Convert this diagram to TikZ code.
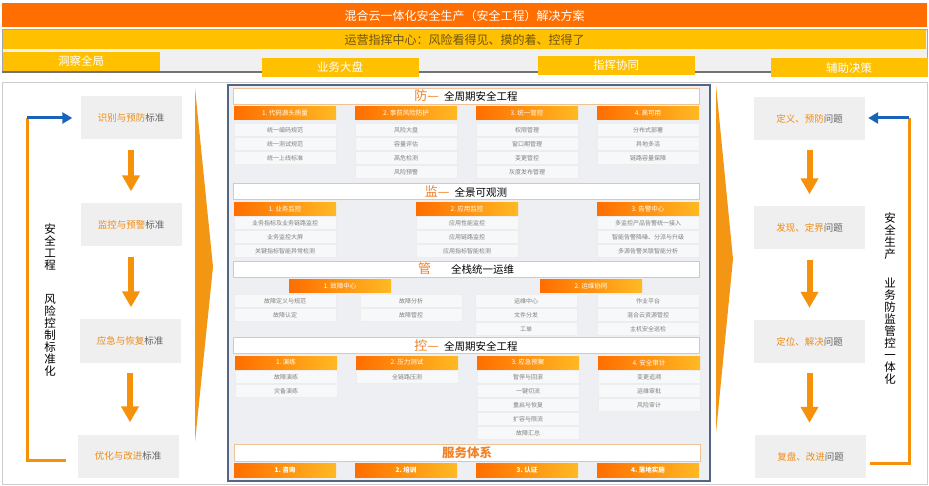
\documentclass[tikz,border=0pt]{standalone}
\usepackage{fontspec}
\setmainfont{Noto Sans CJK SC}
\usepackage{xcolor}
\usepackage{tikz}
\usetikzlibrary{arrows.meta}
\definecolor{hdorange}{RGB}{255,110,0}
\definecolor{hdyellow}{RGB}{255,192,0}
\definecolor{cmdtext}{RGB}{110,85,20}
\definecolor{stdgray}{RGB}{239,239,239}
\definecolor{stdorange}{RGB}{240,140,20}
\definecolor{stdtext}{RGB}{100,100,100}
\definecolor{arroworange}{RGB}{245,145,10}
\definecolor{linkblue}{RGB}{25,100,185}
\definecolor{chevorange}{RGB}{242,150,20}
\definecolor{panelbg}{RGB}{237,239,242}
\definecolor{panelborder}{RGB}{85,100,130}
\definecolor{secborder}{RGB}{240,195,150}
\definecolor{secorange}{RGB}{240,130,40}
\definecolor{colleft}{RGB}{255,110,0}
\definecolor{colright}{RGB}{255,185,35}
\tikzset{
  topbar/.style={
    rectangle,
    fill=hdorange,
    text=white,
    minimum width=925pt,
    minimum height=24pt,
    inner sep=0pt,
    font=\fontsize{12}{12}\selectfont
  },
  cmdbar/.style={
    rectangle,
    fill=hdyellow,
    text=cmdtext,
    minimum width=923pt,
    minimum height=19pt,
    inner sep=0pt,
    font=\fontsize{12}{12}\selectfont
  },
  tabbox/.style={
    rectangle,
    fill=hdyellow,
    text=white,
    minimum width=157pt,
    minimum height=19pt,
    inner sep=0pt,
    font=\fontsize{11.5}{11.5}\selectfont
  },
  stdbox/.style={
    rectangle,
    fill=stdgray,
    text=stdtext,
    minimum width=101pt,
    minimum height=43pt,
    inner sep=0pt,
    font=\fontsize{9.5}{9.5}\selectfont
  },
  downarrow/.style={
    draw=arroworange,
    line width=6pt,
    -{Triangle[length=16pt,width=17pt]},
    shorten <=10pt,
    shorten >=12pt
  },
  bracketline/.style={
    draw=arroworange,
    line width=3pt
  },
  linkarrow/.style={
    draw=linkblue,
    line width=3pt,
    -{Triangle[length=10pt,width=11pt]},
    shorten >=8pt
  },
  vtext/.style={
    align=center,
    inner sep=0pt,
    font=\fontsize{11.5}{12}\selectfont
  },
  secbar/.style={
    rectangle,
    fill=white,
    draw=secborder,
    minimum width=466pt,
    minimum height=16pt,
    inner sep=0pt,
    font=\fontsize{10.5}{10.5}\selectfont
  },
  colhead/.style={
    rectangle,
    left color=colleft,
    right color=colright,
    text=white,
    minimum width=102pt,
    minimum height=13pt,
    inner sep=0pt,
    font=\fontsize{6.5}{6.5}\selectfont
  },
  itemcell/.style={
    rectangle,
    draw=black!7,
    fill=white!55!panelbg,
    text=black!50,
    minimum width=102pt,
    minimum height=13pt,
    inner sep=0pt,
    font=\fontsize{6}{6}\selectfont
  },
  servbar/.style={
    colhead,
    minimum height=14pt,
    font=\fontsize{6.5}{6.5}\selectfont\bfseries
  }
}

\begin{document}
\begin{tikzpicture}[x=1pt, y=-1pt]
\useasboundingbox (0,0) rectangle (929,486);

% header
\node[topbar] (title) at (464.5,15.5) {混合云一体化安全生产（安全工程）解决方案};
\draw[draw=black!35, fill=black!6] (2,29) rectangle (927,72);
\node[cmdbar] (cmd) at (464.5,39.5) {运营指挥中心：风险看得见、摸的着、控得了};
\draw[draw=black!55, line width=1.5pt] (2,72) -- (927,72);
\node[tabbox] (tabview) at (81,61.5) {洞察全局};
\node[tabbox] (tabbiz) at (340,67.5) {业务大盘};
\node[tabbox] (tabcmd) at (616,65.5) {指挥协同};
\node[tabbox] (tabaid) at (849,68) {辅助决策};

% frame and chevrons
\draw[draw=black!20] (2,82) rectangle (927,484);
\fill[chevorange] (195,88) -- (213,267) -- (195,442) -- cycle;
\fill[chevorange] (716,85) -- (733,259) -- (716,433) -- cycle;

% left: standards
\node[stdbox] (stdident) at (131,118) {\textcolor{stdorange}{识别与预防}标准};
\node[stdbox] (stdmonitor) at (131,225) {\textcolor{stdorange}{监控与预警}标准};
\node[stdbox] (stdemerg) at (130,341) {\textcolor{stdorange}{应急与恢复}标准};
\node[stdbox] (stdoptim) at (128,456) {\textcolor{stdorange}{优化与改进}标准};
\draw[downarrow] (stdident.south) -- (stdident.south |- stdmonitor.north);
\draw[downarrow] (stdmonitor.south) -- (stdmonitor.south |- stdemerg.north);
\draw[downarrow] (stdemerg.south) -- (stdemerg.south |- stdoptim.north);
\coordinate (lbot) at (66,460);
\coordinate (lcornerbot) at (27,460);
\coordinate (lcornertop) at (27,118);
\draw[bracketline] (lbot) -- (lcornerbot) -- (lcornertop);
\draw[linkarrow] (lcornertop) -- (lcornertop -| stdident.west);
\node[vtext] (lvtop) at (50,247) {安\\全\\工\\程};
\node[vtext] (lvbot) at (50,335) {风\\险\\控\\制\\标\\准\\化};

% right: problems
\node[stdbox, minimum width=111pt] (probdef) at (809.5,118.5) {\textcolor{stdorange}{定义、预防}问题};
\node[stdbox, minimum width=111pt] (probfind) at (809.5,228) {\textcolor{stdorange}{发现、定界}问题};
\node[stdbox, minimum width=111pt] (problocate) at (809.5,341.5) {\textcolor{stdorange}{定位、解决}问题};
\node[stdbox, minimum width=111pt] (probreview) at (810.5,456.5) {\textcolor{stdorange}{复盘、改进}问题};
\draw[downarrow] (probdef.south) -- (probdef.south |- probfind.north);
\draw[downarrow] (probfind.south) -- (probfind.south |- problocate.north);
\draw[downarrow] (problocate.south) -- (problocate.south |- probreview.north);
\coordinate (rbot) at (870,463);
\coordinate (rcornerbot) at (909,463);
\coordinate (rcornertop) at (909,118);
\draw[bracketline] (rbot) -- (rcornerbot) -- (rcornertop);
\draw[linkarrow, shorten >=3pt] (rcornertop) -- (rcornertop -| probdef.east);
\node[vtext] (rvtop) at (890,236) {安\\全\\生\\产};
\node[vtext] (rvbot) at (890,331) {业\\务\\防\\监\\管\\控\\一\\体\\化};

% centre panel
\draw[draw=panelborder, line width=1.2pt, fill=panelbg] (228,85) rectangle (710,481);

% fang
\node[secbar] (fangtitle) at (466,96) {\textcolor{secorange}{\fontsize{13}{13}\selectfont 防—}\hspace{5pt}全周期安全工程};
\node[colhead] (fanghead1) at (285,113.5) {1.\ 代码源头质量};
\node[colhead] (fanghead2) at (406,113.5) {2.\ 事前风险防护};
\node[colhead] (fanghead3) at (527,113.5) {3.\ 统一管控};
\node[colhead] (fanghead4) at (648,113.5) {4.\ 高可用};
\node[itemcell] (fangitem11) at (285,130) {统一编码规范};
\node[itemcell] (fangitem12) at (285,144) {统一测试规范};
\node[itemcell] (fangitem13) at (285,158) {统一上线标准};
\node[itemcell] (fangitem21) at (406,130) {风险大盘};
\node[itemcell] (fangitem22) at (406,144) {容量评估};
\node[itemcell] (fangitem23) at (406,158) {高危检测};
\node[itemcell] (fangitem24) at (406,172) {风险预警};
\node[itemcell] (fangitem31) at (527,130) {权限管理};
\node[itemcell] (fangitem32) at (527,144) {窗口期管理};
\node[itemcell] (fangitem33) at (527,158) {变更管控};
\node[itemcell] (fangitem34) at (527,172) {灰度发布管理};
\node[itemcell] (fangitem41) at (648,130) {分布式部署};
\node[itemcell] (fangitem42) at (648,144) {异地多活};
\node[itemcell] (fangitem43) at (648,158) {链路容量保障};

% jian
\node[secbar] (jiantitle) at (466,191.5) {\textcolor{secorange}{\fontsize{13}{13}\selectfont 监—}\hspace{5pt}全景可观测};
\node[colhead] (jianhead1) at (285,209) {1.\ 业务监控};
\node[colhead] (jianhead2) at (467,209) {2.\ 应用监控};
\node[colhead] (jianhead3) at (648,209) {3.\ 告警中心};
\node[itemcell] (jianitem11) at (285,223) {业务指标及业务链路监控};
\node[itemcell] (jianitem12) at (285,237) {业务监控大屏};
\node[itemcell] (jianitem13) at (285,251) {关键指标智能异常检测};
\node[itemcell] (jianitem21) at (467,223) {应用性能监控};
\node[itemcell] (jianitem22) at (467,237) {应用链路监控};
\node[itemcell] (jianitem23) at (467,251) {应用指标智能检测};
\node[itemcell] (jianitem31) at (648,223) {多监控产品告警统一接入};
\node[itemcell] (jianitem32) at (648,237) {智能告警降噪、分派与升级};
\node[itemcell] (jianitem33) at (648,251) {多源告警关联智能分析};

% guan
\node[secbar] (guantitle) at (466,269) {\textcolor{secorange}{\fontsize{13}{13}\selectfont 管}\hspace{20pt}全栈统一运维};
\node[colhead] (guanhead1) at (340,286.5) {1.\ 故障中心};
\node[colhead] (guanhead2) at (591,286.5) {2.\ 运维协同};
\node[itemcell] (guanitem11) at (285,301) {故障定义与规范};
\node[itemcell] (guanitem12) at (285,315) {故障认定};
\node[itemcell] (guanitem21) at (411,301) {故障分析};
\node[itemcell] (guanitem22) at (411,315) {故障管控};
\node[itemcell] (guanitem31) at (526,301) {运维中心};
\node[itemcell] (guanitem32) at (526,315) {文件分发};
\node[itemcell] (guanitem33) at (526,329) {工单};
\node[itemcell] (guanitem41) at (648,301) {作业平台};
\node[itemcell] (guanitem42) at (648,315) {混合云资源管控};
\node[itemcell] (guanitem43) at (648,329) {主机安全巡检};

% kong
\node[secbar] (kongtitle) at (466,345.5) {\textcolor{secorange}{\fontsize{13}{13}\selectfont 控—}\hspace{5pt}全周期安全工程};
\node[colhead] (konghead1) at (286,362.5) {1.\ 演练};
\node[colhead] (konghead2) at (407,362.5) {2.\ 压力测试};
\node[colhead] (konghead3) at (528,362.5) {3.\ 应急预案};
\node[colhead] (konghead4) at (649,362.5) {4.\ 安全审计};
\node[itemcell] (kongitem11) at (286,377) {故障演练};
\node[itemcell] (kongitem12) at (286,391) {灾备演练};
\node[itemcell] (kongitem21) at (407,377) {全链路压测};
\node[itemcell] (kongitem31) at (528,377) {暂停与回滚};
\node[itemcell] (kongitem32) at (528,391) {一键切流};
\node[itemcell] (kongitem33) at (528,405) {重启与恢复};
\node[itemcell] (kongitem34) at (528,419) {扩容与限流};
\node[itemcell] (kongitem35) at (528,433) {故障汇总};
\node[itemcell] (kongitem41) at (649,377) {变更追溯};
\node[itemcell] (kongitem42) at (649,391) {运维审批};
\node[itemcell] (kongitem43) at (649,405) {风险审计};

% service
\node[secbar, font=\fontsize{12.5}{12.5}\selectfont\bfseries, text=secorange, minimum height=17pt] (servtitle) at (467,452.5) {服务体系};
\node[servbar] (servconsult) at (285,470) {1.\ 咨询};
\node[servbar] (servtrain) at (406,470) {2.\ 培训};
\node[servbar] (servcert) at (527,470) {3.\ 认证};
\node[servbar] (servimpl) at (648,470) {4.\ 落地实施};
\end{tikzpicture}
\end{document}
